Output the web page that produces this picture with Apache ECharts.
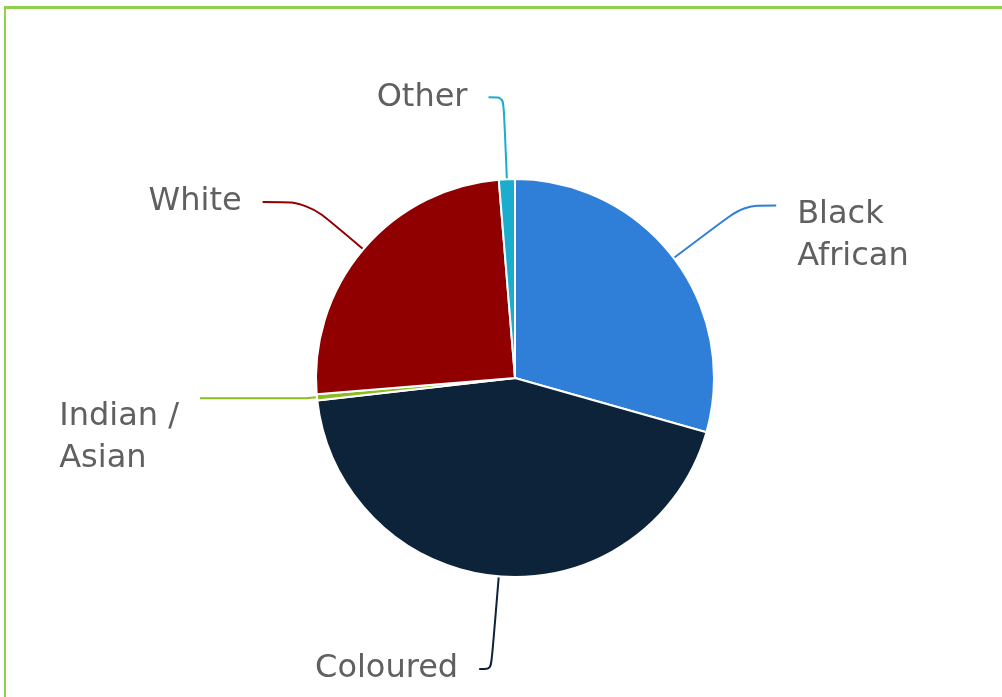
<!DOCTYPE html>
<html>
<head>
<meta charset="utf-8">
<script src="https://cdn.jsdelivr.net/npm/echarts@6/dist/echarts.min.js"></script>
<style>
html,body{margin:0;padding:0;background:#fff;overflow:hidden;}
#frame{position:absolute;left:4px;top:6px;width:1010px;height:700px;border-top:3px solid #8ed14e;border-left:2px solid #8ed14e;}
#chart{position:absolute;left:0;top:0;width:1002px;height:697px;}
</style>
</head>
<body>
<div id="frame"></div>
<div id="chart"></div>
<script>
const categories = ['Black African', 'Coloured', 'Indian / Asian', 'White', 'Other'];
const labelLines = [['Black', 'African'], ['Coloured'], ['Indian /', 'Asian'], ['White'], ['Other']];
const values = [29.4, 43.8, 0.5, 25.0, 1.3];
const colors = ['#2f7ed8', '#0d233a', '#8bbc21', '#910000', '#1aadce'];
// label connector tuning per slice
const lineLen = [87, 93, 10, 73, 82];
const lineLen2 = [33, 12, 107, 45, 15];
const spacer = ['e1', '', 'e2', '', ''];

const chart = echarts.init(document.getElementById('chart'));
const data = categories.map((c, i) => {
  const lines = labelLines[i];
  // multi-line labels: spacer first line so the text sits below the connector end
  const txt = lines.length > 1
    ? '{' + spacer[i] + '|}\n' + lines.map(l => '{a|' + l + '}').join('\n')
    : '{a|' + lines[0] + '}';
  return {
    name: c,
    value: values[i],
    itemStyle: { color: colors[i] },
    labelLine: { length: lineLen[i], length2: lineLen2[i], lineStyle: { color: colors[i] } },
    label: { formatter: txt }
  };
});
chart.setOption({
  animation: false,
  series: [{
    type: 'pie',
    center: [515, 378],
    radius: 199,
    startAngle: 90,
    clockwise: true,
    avoidLabelOverlap: false,
    data: data,
    itemStyle: { borderColor: '#ffffff', borderWidth: 2 },
    label: {
      show: true,
      position: 'outside',
      color: '#606060',
      fontFamily: 'DejaVu Sans',
      fontSize: 32,
      lineHeight: 42,
      distanceToLabelLine: 21,
      rich: {
        a: { color: '#606060', fontFamily: 'DejaVu Sans', fontSize: 32, lineHeight: 42, align: 'left' },
        e1: { fontSize: 32, lineHeight: 60 },
        e2: { fontSize: 32, lineHeight: 78 }
      }
    },
    labelLine: { show: true, smooth: 0.3, lineStyle: { width: 2 } },
    emphasis: { disabled: true }
  }]
});
</script>
</body>
</html>
